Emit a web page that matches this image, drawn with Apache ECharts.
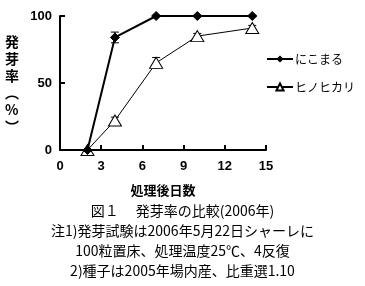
<!DOCTYPE html>
<html><head><meta charset="utf-8">
<script src="https://cdn.jsdelivr.net/npm/echarts@6/dist/echarts.min.js"></script>
<style>html,body{margin:0;padding:0;background:#fff}#c{width:365px;height:286px}</style>
</head><body><div id="c"></div>
<script>
const days = [2, 4, 7, 10, 14];
const nikomaru = [0, 84, 100, 100, 100];
const nikomaruErr = [0, 4, 0.5, 0.5, 0.5];
const hinohikari = [0, 22, 65, 85, 91];
const hinohikariErr = [0, 2.5, 4, 2, 2];
const xTicks = [0, 3, 6, 9, 12, 15];
const yTicks = [0, 50, 100];
const seriesNames = ['にこまる', 'ヒノヒカリ'];
const captionLines = ['図１　 発芽率の比較(2006年)', '注1)発芽試験は2006年5月22日シャーレに', '100粒置床、処理温度25℃、4反復', '2)種子は2005年場内産、比重選1.10'];

const chart = echarts.init(document.getElementById('c'));
function errSeries(vals, errs) {
  return {
    type: 'custom', silent: true, z: 1,
    data: days.map((d, i) => [d, vals[i] - errs[i], vals[i] + errs[i]]),
    renderItem: function (params, api) {
      const lo = api.coord([api.value(0), api.value(1)]);
      const hi = api.coord([api.value(0), api.value(2)]);
      const w = 4;
      const st = { stroke: '#000', lineWidth: 1 };
      return { type: 'group', children: [
        { type: 'line', shape: { x1: lo[0], y1: lo[1], x2: hi[0], y2: hi[1] }, style: st },
        { type: 'line', shape: { x1: lo[0] - w, y1: lo[1], x2: lo[0] + w, y2: lo[1] }, style: st },
        { type: 'line', shape: { x1: hi[0] - w, y1: hi[1], x2: hi[0] + w, y2: hi[1] }, style: st }
      ]};
    }
  };
}
const capFont = '"Noto Sans CJK JP", sans-serif';
chart.setOption({
  animation: false,
  grid: { left: 60, right: 99, top: 16, bottom: 136 },
  xAxis: {
    type: 'value', min: 0, max: 15, interval: 3,
    axisLine: { lineStyle: { color: '#000', width: 2 } },
    axisTick: { inside: true, length: 5, lineStyle: { color: '#000', width: 2 } },
    axisLabel: { color: '#000', fontSize: 13, fontWeight: 'bold', fontFamily: 'Liberation Sans', margin: 10,
      formatter: v => xTicks.includes(v) ? String(v) : '' },
    splitLine: { show: false },
    name: '処理後日数', nameLocation: 'middle', nameGap: 34,
    nameTextStyle: { color: '#000', fontSize: 13, fontWeight: 'bold', fontFamily: capFont }
  },
  yAxis: {
    type: 'value', min: 0, max: 100, interval: 50,
    axisLine: { show: true, lineStyle: { color: '#000', width: 2 } },
    axisTick: { show: true, inside: true, length: 5, lineStyle: { color: '#000', width: 2 } },
    axisLabel: { color: '#000', fontSize: 13, fontWeight: 'bold', fontFamily: 'Liberation Sans', margin: 8,
      formatter: v => yTicks.includes(v) ? String(v) : '' },
    splitLine: { show: false }
  },
  legend: {
    orient: 'vertical', left: 266, top: 53, itemGap: 16, itemWidth: 26, itemHeight: 9, padding: 0,
    textStyle: { color: '#000', fontSize: 12, fontFamily: capFont, padding: [0, 0, 0, -3] },
    data: seriesNames
  },
  graphic: [
    { type: 'text', left: 5, top: 33, style: { text: '発\n芽\n率\n︵\n%\n︶', fill: '#000', font: 'bold 14px "Noto Sans CJK JP"', lineHeight: 17, align: 'center' } },
    ...captionLines.map((t, i) => ({ type: 'text', left: 'center', top: 204 + i * 20,
      style: { text: t, fill: '#000', font: '14px "Noto Sans CJK JP"' } }))
  ],
  series: [
    errSeries(nikomaru, nikomaruErr),
    errSeries(hinohikari, hinohikariErr),
    { name: seriesNames[0], type: 'line', z: 3, data: days.map((d, i) => [d, nikomaru[i]]),
      symbol: 'diamond', symbolSize: 9, lineStyle: { color: '#000', width: 2 },
      itemStyle: { color: '#000', borderColor: '#000' } },
    { name: seriesNames[1], type: 'line', z: 2, data: days.map((d, i) => [d, hinohikari[i]]),
      symbol: 'triangle', symbolSize: [13, 11], lineStyle: { color: '#000', width: 1 },
      itemStyle: { color: '#fff', borderColor: '#000', borderWidth: 1 } }
  ]
});
</script></body></html>
